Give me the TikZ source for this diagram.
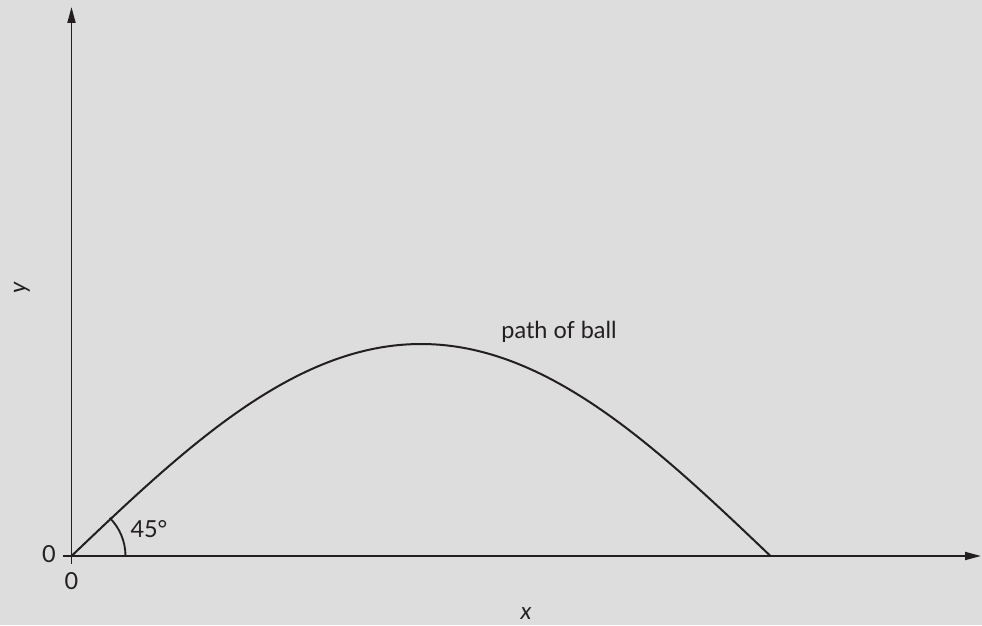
\documentclass[tikz,border=0pt]{standalone}
\usepackage{fontspec}
\setmainfont{Lato}
\usetikzlibrary{arrows.meta,calc}
\definecolor{bg}{RGB}{221,221,221}
\definecolor{ink}{RGB}{35,31,32}
\begin{document}
\begin{tikzpicture}[x=0.75pt,y=0.75pt,
  axis/.style={line width=1.4pt,draw=ink,-{Triangle[length=12pt,width=6pt]}},
  curve/.style={line width=1.5pt,draw=ink},
  lbl/.style={text=ink,font=\fontsize{17.6}{20}\selectfont,inner sep=0pt}]
\fill[bg] (0,0) rectangle (982,625);
\useasboundingbox (0,0) rectangle (982,625);
\coordinate (O) at (71.5,69);
\coordinate (ybot) at (71.5,61);
\coordinate (ytop) at (71.5,618);
\coordinate (xleft) at (63,69);
\coordinate (xright) at (981,69);
\draw[axis] (ybot) -- (ytop);
\draw[axis] (xleft) -- (xright);
\draw[curve] plot[domain=0:180,samples=120,smooth] ({71.5+\x*3.8833},{69+212*sin(\x)});
\draw[line width=1.4pt,draw=ink] ($(O)+(54,0)$) arc[start angle=0,end angle=45,radius=54];
\node[lbl,anchor=base] (path) at (559,286) {path of ball};
\node[lbl,anchor=base] (ang) at (149,87) {45°};
\node[lbl] (zy) at (49,71) {0};
\node[lbl] (zx) at (71.5,44) {0};
\node[lbl] (xl) at (526,11) {\itshape x};
\node[lbl,rotate=90] (yl) at (22,337) {\itshape y};
\end{tikzpicture}
\end{document}
